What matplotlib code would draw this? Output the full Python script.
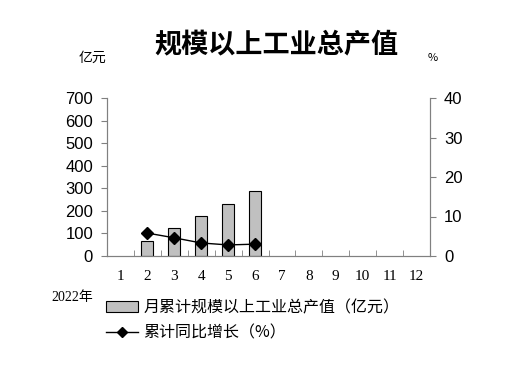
import numpy as np
import matplotlib.pyplot as plt
from matplotlib.ticker import MultipleLocator, FixedLocator

plt.rcParams['font.family'] = ['Noto Sans CJK SC', 'DejaVu Sans']

# 数据
months = np.arange(1, 13)
month_labels = [str(m) for m in months]
bar_months = [2, 3, 4, 5, 6]
output_value = [66, 124, 177, 230, 288]     # 亿元
growth_rate = [5.8, 4.6, 3.3, 2.8, 3.0]     # %

fig = plt.figure(figsize=(5.31, 3.85), dpi=100)
ax = fig.add_axes([107/531, 1 - 256/385, (430 - 107)/531, (256 - 98)/385])
ax2 = ax.twinx()

spine_col = '#808080'

ax.bar(bar_months, output_value, width=0.45, color='#c0c0c0',
       edgecolor='black', linewidth=0.8, label='月累计规模以上工业总产值（亿元）', zorder=2)
ax2.plot(bar_months, growth_rate, color='black', linewidth=1.0, marker='D',
         markersize=6, label='累计同比增长（%）', zorder=3)

ax.set_xlim(0.5, 12.5)
ax.set_ylim(0, 700)
ax2.set_ylim(0, 40)
ax.yaxis.set_major_locator(MultipleLocator(100))
ax2.yaxis.set_major_locator(MultipleLocator(10))

ax.set_xticks(months)
ax.set_xticklabels(month_labels, fontfamily='Liberation Serif', fontsize=11)
ax.xaxis.set_minor_locator(FixedLocator(np.arange(1.5, 12, 1)))
ax.tick_params(axis='x', which='major', length=0, pad=10)
ax.tick_params(axis='x', which='minor', direction='in', length=4, color=spine_col)
ax.tick_params(axis='y', direction='out', length=4, color=spine_col, labelsize=12, pad=6)
ax2.tick_params(axis='y', direction='out', length=4, color=spine_col, labelsize=12, pad=6)
for lab in ax.get_yticklabels() + ax2.get_yticklabels():
    lab.set_fontfamily('Liberation Sans')

for a in (ax, ax2):
    a.spines['top'].set_visible(False)
    for s in ('left', 'right', 'bottom'):
        a.spines[s].set_color(spine_col)
        a.spines[s].set_linewidth(0.8)

fig.text(276/531, 1 - 45/385, '规模以上工业总产值', ha='center', va='center',
         fontsize=19.5, fontweight='bold')
fig.text(92/531, 1 - 58/385, '亿元', ha='center', va='center', fontsize=10)
fig.text(433/531, 1 - 58/385, '%', ha='center', va='center', fontsize=8)
fig.text(72/531, 1 - 297/385, '2022年', ha='center', va='center', fontsize=10,
         family=['Liberation Serif', 'Noto Sans CJK SC'])

h1, l1 = ax.get_legend_handles_labels()
h2, l2 = ax2.get_legend_handles_labels()
fig.legend(h1 + h2, l1 + l2, loc='upper left', bbox_to_anchor=(106/531, 1 - 299/385),
           frameon=False, fontsize=11.5, handlelength=2.0, handletextpad=0.35,
           labelspacing=0.55, borderaxespad=0, borderpad=0, markerscale=0.8)

fig.savefig('out.png', dpi=100)
